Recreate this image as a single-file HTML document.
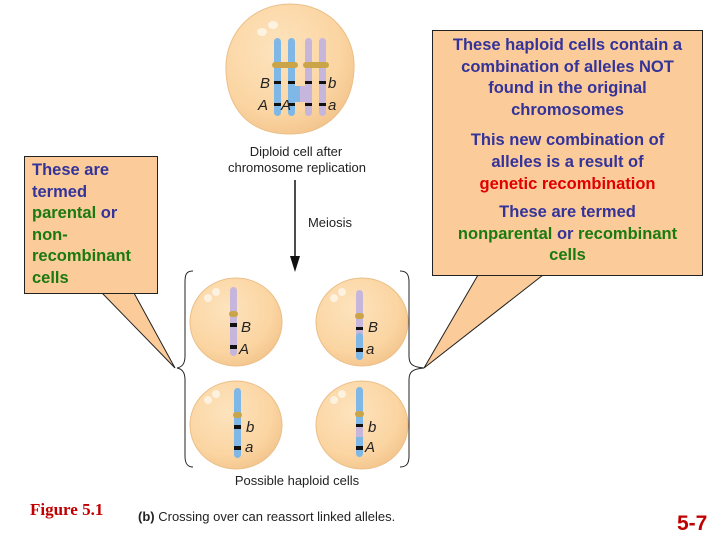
<!DOCTYPE html>
<html><head><meta charset="utf-8"><style>
html,body{margin:0;padding:0;background:#fff;}
body{width:720px;height:540px;position:relative;overflow:hidden;font-family:"Liberation Sans",sans-serif;}
.box{position:absolute;background:#fccb9a;border:1px solid #222;box-sizing:border-box;font-weight:bold;font-size:16.5px;line-height:21.6px;}
.b{color:#333399}.g{color:#1a7a10}.r{color:#e00000}
svg{position:absolute;left:0;top:0}
</style></head><body>
<svg width="720" height="540" viewBox="0 0 720 540">
<defs>
<radialGradient id="cg" cx="0.4" cy="0.35" r="0.7"><stop offset="0" stop-color="#fde3bd"/><stop offset="0.7" stop-color="#fbd5a2"/><stop offset="1" stop-color="#f3c48c"/></radialGradient>
</defs>
<polygon points="102,293 134,293 175,368" fill="#fccb9a" stroke="#222" stroke-width="1"/>
<polygon points="478,275 543,275 424,368" fill="#fccb9a" stroke="#222" stroke-width="1"/>
<path d="M290,4 C330,4 356,35 354,70 C352,110 325,134 290,134 C250,134 228,110 226,72 C224,34 252,4 290,4Z" fill="url(#cg)" stroke="#ebbf88"/>
<ellipse cx="262" cy="32" rx="5" ry="4" fill="#fff" opacity="0.6"/><ellipse cx="273" cy="25" rx="5" ry="4" fill="#fff" opacity="0.6"/>
<g stroke-width="0">
<rect x="274" y="38" width="7" height="78" rx="3.5" fill="#7fb8e6"/>
<rect x="288" y="38" width="7" height="78" rx="3.5" fill="#7fb8e6"/>
<rect x="305" y="38" width="7" height="78" rx="3.5" fill="#c6b6dc"/>
<rect x="319" y="38" width="7" height="78" rx="3.5" fill="#c6b6dc"/>
<rect x="294" y="86" width="6" height="16" fill="#7fb8e6"/><rect x="300" y="86" width="6" height="16" fill="#c6b6dc"/>
<rect x="272" y="62" width="26" height="6" rx="3" fill="#c9a548"/>
<rect x="303" y="62" width="26" height="6" rx="3" fill="#c9a548"/>
<g fill="#111"><rect x="274" y="81" width="7" height="3"/><rect x="288" y="81" width="7" height="3"/><rect x="305" y="81" width="7" height="3"/><rect x="319" y="81" width="7" height="3"/>
<rect x="274" y="103" width="7" height="3"/><rect x="288" y="103" width="7" height="3"/><rect x="305" y="103" width="7" height="3"/><rect x="319" y="103" width="7" height="3"/></g>
</g>
<g font-family="Liberation Sans" font-style="italic" font-size="15" fill="#222">
<text x="260" y="88">B</text><text x="328" y="88">b</text><text x="258" y="110">A</text><text x="281" y="110">A</text><text x="328" y="110">a</text>
</g>
<g font-family="Liberation Sans" font-size="13" fill="#222" text-anchor="middle">
<text x="296" y="156">Diploid cell after</text><text x="297" y="172">chromosome replication</text>
<text x="330" y="227">Meiosis</text>
<text x="297" y="485">Possible haploid cells</text>
</g>
<line x1="295" y1="180" x2="295" y2="260" stroke="#111" stroke-width="1.5"/>
<polygon points="290,256 300,256 295,272" fill="#111"/>
<path d="M193,271 C186,271 185,275 185,282 L185,356 C185,364 182,367 177,368 C182,369 185,372 185,380 L185,456 C185,463 187,467 193,467" fill="none" stroke="#222" stroke-width="1"/>
<path d="M400,271 C407,271 409,275 409,282 L409,356 C409,364 412,367 424,368 C412,369 409,372 409,380 L409,456 C409,463 407,467 400,467" fill="none" stroke="#222" stroke-width="1"/>
<g fill="url(#cg)" stroke="#ebbf88">
<ellipse cx="236" cy="322" rx="46" ry="44"/><ellipse cx="362" cy="322" rx="46" ry="44"/>
<ellipse cx="236" cy="425" rx="46" ry="44"/><ellipse cx="362" cy="425" rx="46" ry="44"/>
</g>
<g fill="#fff" opacity="0.6"><circle cx="208" cy="298" r="4"/><circle cx="216" cy="292" r="4"/><circle cx="334" cy="298" r="4"/><circle cx="342" cy="292" r="4"/><circle cx="208" cy="400" r="4"/><circle cx="216" cy="394" r="4"/><circle cx="334" cy="400" r="4"/><circle cx="342" cy="394" r="4"/></g>
<rect x="230" y="287" width="7" height="69" rx="3.5" fill="#c6b6dc"/>
<rect x="356" y="290" width="7" height="70" rx="3.5" fill="#c6b6dc"/><rect x="356" y="333" width="7" height="27" rx="3.5" fill="#7fb8e6"/>
<rect x="234" y="388" width="7" height="70" rx="3.5" fill="#7fb8e6"/>
<rect x="356" y="387" width="7" height="70" rx="3.5" fill="#7fb8e6"/><rect x="356" y="425" width="7" height="12" fill="#c6b6dc"/>
<g fill="#c9a548"><rect x="229" y="311" width="9" height="6" rx="3"/><rect x="355" y="313" width="9" height="6" rx="3"/><rect x="233" y="412" width="9" height="6" rx="3"/><rect x="355" y="411" width="9" height="6" rx="3"/></g>
<g fill="#111"><rect x="230" y="323" width="7" height="4"/><rect x="230" y="345" width="7" height="4"/><rect x="356" y="327" width="7" height="3"/><rect x="356" y="348" width="7" height="4"/>
<rect x="234" y="425" width="7" height="4"/><rect x="234" y="446" width="7" height="4"/><rect x="356" y="424" width="7" height="3"/><rect x="356" y="446" width="7" height="4"/></g>
<g font-family="Liberation Sans" font-style="italic" font-size="15" fill="#222">
<text x="241" y="332">B</text><text x="239" y="354">A</text><text x="368" y="332">B</text><text x="366" y="354">a</text>
<text x="246" y="432">b</text><text x="245" y="452">a</text><text x="368" y="432">b</text><text x="365" y="452">A</text>
</g>
<text x="30" y="515" font-family="Liberation Serif" font-weight="bold" font-size="17" fill="#c00000">Figure 5.1</text>
<text x="138" y="521" font-family="Liberation Sans" font-size="13" fill="#222"><tspan font-weight="bold">(b)</tspan> Crossing over can reassort linked alleles.</text>
<text x="677" y="530" font-family="Liberation Sans" font-weight="bold" font-size="21" fill="#c00000">5-7</text>
</svg>
<div class="box" style="left:24px;top:156px;width:134px;height:138px;padding:3px 0 0 7px;"><span class="b">These are<br>termed</span><br><span class="g">parental</span> <span class="b">or</span><br><span class="g">non-<br>recombinant<br>cells</span></div>
<div class="box" style="left:432px;top:30px;width:271px;height:246px;text-align:center;padding-top:4px;">
<div class="b">These haploid cells contain a<br>combination of alleles NOT<br>found in the original<br>chromosomes</div>
<div style="margin-top:9px"><span class="b">This new combination of<br>alleles is a result of</span><br><span class="r">genetic recombination</span></div>
<div style="margin-top:7px"><span class="b">These are termed</span><br><span class="g">nonparental</span> <span class="b">or</span> <span class="g">recombinant<br>cells</span></div>
</div>
</body></html>
